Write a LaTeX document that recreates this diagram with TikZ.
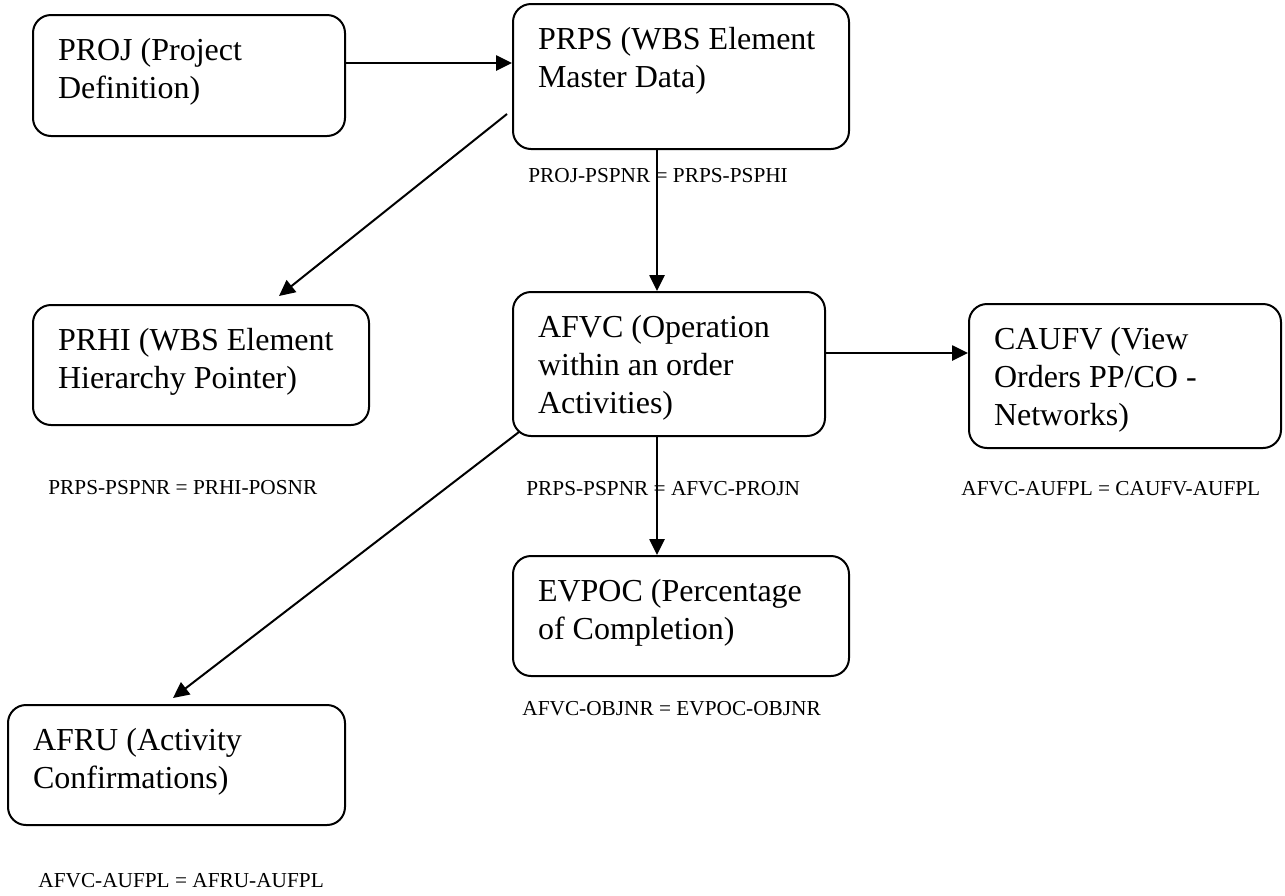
\documentclass[tikz,border=0pt]{standalone}
\usepackage{fontspec}
\setmainfont{Liberation Serif}
\usetikzlibrary{arrows.meta}
\newcommand{\boxtxt}[3]{\parbox[t][#2][t]{#1}{\strut #3}}
\tikzset{
  tbox/.style={draw, line width=1pt, rounded corners=9pt, anchor=north west,
    inner xsep=12.5pt, inner ysep=9.2pt, font=\fontsize{16}{19}\selectfont},
  lbl/.style={anchor=base west, inner sep=0pt, font=\fontsize{10.65}{12.5}\selectfont},
  arr/.style={line width=1pt, -{Triangle[length=8pt,width=7.6pt]}}
}
\begin{document}
\begin{tikzpicture}[x=0.5pt,y=-0.5pt]
\useasboundingbox (0,0) rectangle (1285,895);
% boxes
\node[tbox] (PROJ) at (32,14) {\boxtxt{131pt}{42.1pt}{PROJ (Project\\Definition)}};
\node[tbox] (PRPS) at (512,3) {\boxtxt{143pt}{54.1pt}{PRPS (WBS Element\\Master Data)}};
\node[tbox] (PRHI) at (32,304) {\boxtxt{143pt}{41.6pt}{PRHI (WBS Element\\Hierarchy Pointer)}};
\node[tbox] (AFVC) at (512,291) {\boxtxt{131pt}{53.6pt}{AFVC (Operation\\within an order\\Activities)}};
\node[tbox] (CAUFV) at (968,303) {\boxtxt{131pt}{53.6pt}{CAUFV (View\\Orders PP/CO -\\Networks)}};
\node[tbox] (EVPOC) at (512,555) {\boxtxt{143pt}{41.6pt}{EVPOC (Percentage\\of Completion)}};
\node[tbox] (AFRU) at (7,704) {\boxtxt{143.5pt}{41.6pt}{AFRU (Activity\\Confirmations)}};
% labels
\node[lbl] (l1) at (528,182) {PROJ-PSPNR = PRPS-PSPHI};
\node[lbl] (l2) at (48,494) {PRPS-PSPNR = PRHI-POSNR};
\node[lbl] (l3) at (526,495) {PRPS-PSPNR = AFVC-PROJN};
\node[lbl] (l4) at (961,495) {AFVC-AUFPL = CAUFV-AUFPL};
\node[lbl] (l5) at (522,715) {AFVC-OBJNR = EVPOC-OBJNR};
\node[lbl] (l6) at (38,887) {AFVC-AUFPL = AFRU-AUFPL};
% connectors
\draw[arr] ([yshift=6.25pt]PROJ.east) -- ([yshift=6.75pt]PRPS.west);
\draw[arr] ([xshift=-2.5pt,yshift=-18.75pt]PRPS.west) -- ([xshift=39pt,yshift=4pt]PRHI.north);
\draw[arr] ([xshift=-12pt]PRPS.south) -- ([xshift=-6pt]AFVC.north);
\draw[arr] ([yshift=5.5pt]AFVC.east) -- ([yshift=11.5pt]CAUFV.west);
\draw[arr] ([xshift=-6pt]AFVC.south) -- ([xshift=-12pt]EVPOC.north);
\draw[arr] ([xshift=3.5pt,yshift=2.5pt]AFVC.south west) -- ([xshift=-1.75pt,yshift=3pt]AFRU.north);
\end{tikzpicture}
\end{document}
